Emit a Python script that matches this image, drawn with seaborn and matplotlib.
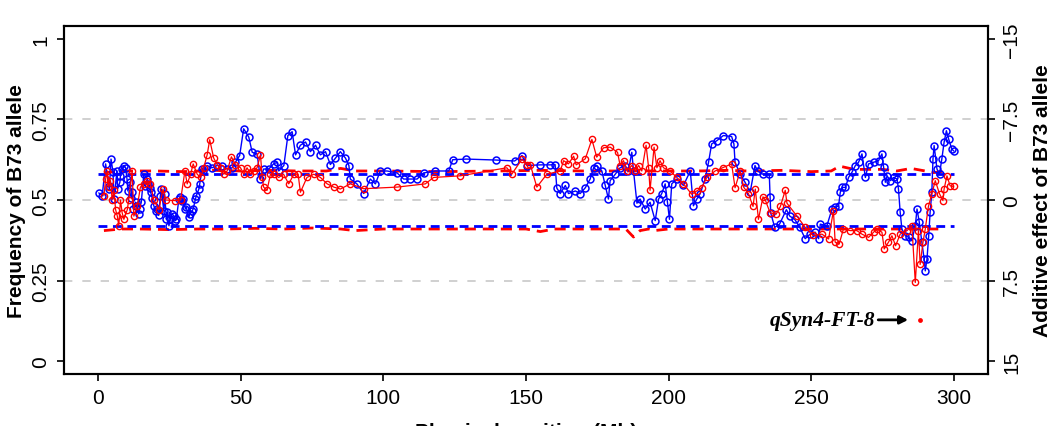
import matplotlib
matplotlib.use("Agg")
import matplotlib.pyplot as plt
import pandas as pd
import seaborn as sns

# style first, then fonts (set_style resets font.family)
sns.set_style("ticks", {'text.color': 'black', 'axes.labelcolor': 'black',
                        'xtick.color': 'black', 'ytick.color': 'black',
                        'axes.edgecolor': 'black'})
plt.rcParams['font.family'] = ['Liberation Sans', 'DejaVu Sans']

# --- data ---
blue_pos = [0.2, 1.4, 2.6, 3.7, 3.9, 4.5, 5.2, 5.5, 6.6, 6.8, 7.6, 7.8, 8.4, 9.0, 9.6, 10.1,
            10.4, 11.3, 11.6, 11.9, 12.3, 13.1, 13.4, 14.2, 14.5, 15.1, 16.0, 16.3, 17.2, 17.5,
            18.1, 18.4, 18.9, 19.5, 20.1, 20.7, 21.2, 21.8, 22.1, 23.0, 23.3, 23.9, 24.2, 24.8,
            25.3, 25.9, 26.5, 27.1, 27.4, 28.3, 28.6, 29.4, 29.7, 30.6, 30.9, 31.8, 32.1, 33.0,
            33.3, 34.1, 34.4, 35.3, 35.6, 36.4, 36.7,
            38.2, 39.9, 41.7, 43.4, 45.2, 47.0, 48.1, 49.6,
            51.0, 52.8, 54.0, 55.7, 56.9, 58.0, 59.8, 61.5, 62.7, 63.3, 65.1, 66.5, 68.0, 69.2,
            70.9, 72.7, 74.4, 76.2, 77.9, 79.7, 81.4, 83.2, 84.9, 86.7, 87.9, 88.4, 90.7, 93.1,
            95.4, 97.2, 98.9, 101.3, 104.8, 107.1, 109.4, 111.8, 114.1, 118.2, 122.9, 124.3,
            129.1, 139.4, 146.0, 148.6, 150.3, 155.0, 158.5, 160.2, 160.8, 162.0, 163.8, 164.9,
            167.3, 169.0, 170.8, 172.5, 173.7, 174.8, 176.6, 177.8, 178.9, 179.5, 181.3, 183.0,
            184.8, 185.9, 187.1, 187.7, 188.9, 190.0, 191.8, 193.5, 195.3, 196.5, 197.6, 198.8,
            199.6, 200.3, 201.1, 202.9, 205.2, 207.6, 208.7, 209.9, 211.1, 212.8, 214.0, 215.1,
            216.9, 219.2, 222.1, 222.9, 223.3, 225.1, 226.8, 228.6, 230.3, 231.2, 233.0, 235.3,
            235.6, 235.8, 237.2, 238.9, 241.3, 242.5, 244.2, 246.0, 247.9, 249.6, 251.4, 252.6,
            253.2, 255.5, 257.3, 258.5, 259.6, 260.2, 260.8, 262.0, 263.1, 264.3, 265.5, 266.6,
            267.8, 269.0, 270.1, 271.9, 273.6, 274.8, 275.4, 276.0, 276.6, 277.7, 278.9, 280.1,
            280.6, 281.2, 281.8, 283.0, 284.2, 285.3, 286.5, 287.1, 287.9, 288.8, 289.6, 290.0,
            290.6, 291.2, 291.7, 292.3, 292.7, 293.1, 294.1, 295.0, 295.8, 296.6, 297.4, 298.2,
            299.3, 300.0]
blue_freq = [0.522, 0.513, 0.612, 0.544, 0.534, 0.627, 0.586, 0.503, 0.59, 0.534, 0.555, 0.575,
             0.596, 0.607, 0.60, 0.565, 0.528, 0.555, 0.507, 0.524, 0.472, 0.493, 0.482, 0.457,
             0.472, 0.493, 0.58, 0.544, 0.565, 0.55, 0.538, 0.524, 0.507, 0.482, 0.467, 0.472,
             0.452, 0.513, 0.534, 0.467, 0.519, 0.44, 0.462, 0.42, 0.441, 0.457, 0.451, 0.436,
             0.441, 0.503, 0.508, 0.497, 0.503, 0.472, 0.477, 0.446, 0.457, 0.467, 0.472, 0.503,
             0.513, 0.534, 0.55, 0.596, 0.591,
             0.607, 0.60, 0.607, 0.607, 0.596, 0.60, 0.617, 0.638, 0.721, 0.695, 0.648, 0.643,
             0.565, 0.596, 0.596, 0.612, 0.617, 0.59, 0.607, 0.70, 0.712, 0.64, 0.67, 0.68, 0.65,
             0.67, 0.64, 0.65, 0.61, 0.63, 0.65, 0.63, 0.607, 0.565, 0.55, 0.52, 0.565, 0.55,
             0.59, 0.59, 0.584, 0.565, 0.565, 0.565, 0.584, 0.59, 0.59, 0.625, 0.627, 0.624,
             0.621, 0.638, 0.607, 0.609, 0.609, 0.61, 0.537, 0.52, 0.545, 0.52, 0.528, 0.52,
             0.538, 0.565, 0.60, 0.607, 0.59, 0.545, 0.503, 0.56, 0.58, 0.60, 0.607, 0.59, 0.648,
             0.59, 0.49, 0.503, 0.472, 0.493, 0.436, 0.503, 0.52, 0.55, 0.493, 0.44, 0.55, 0.565,
             0.545, 0.59, 0.482, 0.503, 0.52, 0.565, 0.617, 0.674, 0.684, 0.70, 0.697, 0.674,
             0.617, 0.58, 0.555, 0.524, 0.607, 0.59, 0.58, 0.58, 0.51, 0.46, 0.415, 0.425, 0.47,
             0.45, 0.44, 0.415, 0.38, 0.394, 0.40, 0.38,
             0.425, 0.42, 0.472, 0.477, 0.482, 0.524, 0.539, 0.539, 0.57, 0.586, 0.607, 0.617,
             0.643, 0.57, 0.612, 0.617, 0.622, 0.643, 0.601, 0.555, 0.575, 0.56, 0.57, 0.565,
             0.534, 0.462, 0.41, 0.389, 0.384, 0.374, 0.42, 0.472, 0.431, 0.369, 0.317, 0.28,
             0.317, 0.389, 0.462, 0.524, 0.627, 0.669, 0.596, 0.581, 0.627, 0.679, 0.715, 0.689,
             0.658, 0.652]

red_pos = [2.0, 2.6, 3.2, 3.7, 4.3, 4.9, 5.5, 6.1, 6.7, 7.2, 7.8, 8.4, 9.0, 10.2, 10.7, 11.9,
           12.5, 13.7, 14.8, 16.0, 17.2, 18.3, 19.5, 21.3, 22.7, 23.6, 27.1, 28.9, 30.4, 31.2,
           32.4, 33.3, 34.7, 35.9, 37.0, 38.2, 39.1, 40.5, 41.7, 42.9, 44.0, 45.2, 46.7, 48.1,
           49.9, 51.1, 52.2, 53.4, 54.6, 55.7, 56.9, 57.5, 58.0, 59.2, 60.4, 61.6, 63.3, 65.0,
           66.8, 68.6, 70.1, 70.9, 73.2, 75.6, 77.9, 80.3, 82.6, 84.9, 88.4, 93.1, 104.8, 114.7,
           117.6, 127.0, 143.3, 145.0, 148.6, 150.3, 151.5, 153.8, 157.3, 162.0, 163.2, 164.9,
           166.7, 167.6, 170.8, 173.1, 174.8, 177.2, 179.5, 182.1, 183.0, 184.2, 185.4, 187.1,
           188.3, 189.5, 190.6, 192.1, 193.0, 193.5, 194.9, 195.9, 197.0, 198.2, 200.5, 202.9,
           205.2, 208.1, 209.9, 211.6, 213.4, 216.3, 218.9, 222.1, 223.3, 225.1, 226.3, 228.0,
           229.6, 230.4, 231.5, 233.1, 233.9, 235.6, 237.7, 239.2, 240.9, 241.5, 245.0, 247.9,
           250.6, 253.8, 256.1, 257.8, 258.4, 259.8, 261.3, 263.7, 266.0, 267.8, 270.1, 271.9,
           273.0, 274.8, 275.6, 277.1, 278.3, 279.6, 281.2, 283.6, 285.3, 286.5, 287.6, 288.2,
           289.2, 290.0, 291.1, 292.3, 293.5, 295.0, 296.2, 296.6, 297.6, 298.7, 299.9]
red_freq = [0.513, 0.565, 0.59, 0.54, 0.56, 0.50, 0.53, 0.47, 0.45, 0.42, 0.50, 0.46, 0.44, 0.47,
            0.50, 0.59, 0.45, 0.48, 0.54, 0.55, 0.56, 0.55, 0.50, 0.47, 0.534, 0.50, 0.498, 0.50,
            0.59, 0.55, 0.58, 0.612, 0.58, 0.57, 0.60, 0.64, 0.687, 0.63, 0.61, 0.60, 0.58, 0.59,
            0.634, 0.61, 0.60, 0.58, 0.60, 0.58, 0.59, 0.60, 0.64, 0.57, 0.54, 0.53, 0.58, 0.58,
            0.57, 0.58, 0.55, 0.58, 0.58, 0.524, 0.57, 0.58, 0.57, 0.55, 0.54, 0.534, 0.55,
            0.535, 0.54, 0.55, 0.57, 0.575, 0.60, 0.58, 0.627, 0.61, 0.61, 0.54, 0.58, 0.59,
            0.622, 0.612, 0.636, 0.609, 0.628, 0.688, 0.633, 0.662, 0.664, 0.648, 0.607, 0.622,
            0.59, 0.607, 0.59, 0.607, 0.59, 0.67, 0.60, 0.53, 0.664, 0.60, 0.622, 0.60, 0.59,
            0.57, 0.55, 0.518, 0.528, 0.538, 0.57, 0.59, 0.60, 0.612, 0.538, 0.59, 0.54, 0.52,
            0.48, 0.534, 0.44, 0.51, 0.50, 0.46, 0.456, 0.48, 0.53, 0.49, 0.45, 0.415, 0.39,
            0.394, 0.379, 0.467, 0.369, 0.363, 0.41, 0.405, 0.405, 0.394, 0.384, 0.40, 0.41,
            0.40, 0.348, 0.369, 0.389, 0.358, 0.394, 0.405, 0.42, 0.244, 0.405, 0.30, 0.369,
            0.41, 0.48, 0.519, 0.56, 0.519, 0.498, 0.534, 0.575, 0.544, 0.542]

# significance thresholds
blue_thr_pos = [0, 300]
blue_thr_low = [0.42, 0.42]
blue_thr_high = [0.58, 0.58]

red_hi_pos = [2, 10, 20, 30, 40, 50, 60, 70, 80, 85, 90, 100, 120, 140, 155, 170, 185, 200,
              210, 220, 228, 240, 250, 257, 260, 265, 275, 280, 285, 290, 293, 297]
red_hi_val = [0.585, 0.59, 0.59, 0.588, 0.592, 0.59, 0.592, 0.59, 0.59, 0.598, 0.59, 0.59,
              0.588, 0.59, 0.592, 0.59, 0.59, 0.59, 0.59, 0.592, 0.59, 0.592, 0.588, 0.59,
              0.605, 0.595, 0.595, 0.59, 0.598, 0.59, 0.585, 0.59]
red_lo_pos = [2, 8, 15, 25, 35, 45, 55, 65, 75, 85, 90, 100, 120, 140, 150, 155, 160, 175,
              185, 187.7, 190, 193, 195, 200, 215, 230, 250, 270, 285, 297]
red_lo_val = [0.405, 0.41, 0.41, 0.408, 0.41, 0.41, 0.412, 0.41, 0.413, 0.41, 0.405, 0.41,
              0.41, 0.41, 0.41, 0.402, 0.41, 0.41, 0.41, 0.385, 0.405, 0.41, 0.405, 0.41,
              0.41, 0.41, 0.41, 0.41, 0.41, 0.41]

grid_levels = [0.25, 0.5, 0.75]
freq_ticks = [0, 0.25, 0.5, 0.75, 1]
freq_labels = ['0', '0.25', '0.5', '0.75', '1']
effect_ticks = [15, 7.5, 0, -7.5, -15]
effect_labels = ['15', '7.5', '0', '\u22127.5', '\u221215']
x_ticks = [0, 50, 100, 150, 200, 250, 300]

qtl_name = 'qSyn4-FT-8'
qtl_pos = [288.2]
qtl_freq = [0.128]

blue_df = pd.DataFrame({'pos': blue_pos, 'freq': blue_freq})
red_df = pd.DataFrame({'pos': red_pos, 'freq': red_freq})

# --- figure ---
fig = plt.figure(figsize=(10.54, 4.27), dpi=100)
ax = fig.add_axes([0.0607, 0.1218, 0.8767, 0.815])

for g in grid_levels:
    ax.axhline(g, color='#C8C8C8', lw=1.2, dashes=(5, 6), zorder=0)

# threshold lines
sns.lineplot(x=red_hi_pos, y=red_hi_val, ax=ax, color='red', lw=2,
             estimator=None, sort=False, zorder=1).lines[-1].set_dashes((4, 2.5))
sns.lineplot(x=red_lo_pos, y=red_lo_val, ax=ax, color='red', lw=2,
             estimator=None, sort=False, zorder=1).lines[-1].set_dashes((4, 2.5))
sns.lineplot(x=blue_thr_pos, y=blue_thr_high, ax=ax, color='blue', lw=2,
             estimator=None, sort=False, zorder=1).lines[-1].set_dashes((3.2, 2))
sns.lineplot(x=blue_thr_pos, y=blue_thr_low, ax=ax, color='blue', lw=2,
             estimator=None, sort=False, zorder=1).lines[-1].set_dashes((3.2, 2))

# allele frequency traces
sns.lineplot(data=blue_df, x='pos', y='freq', ax=ax, color='blue', lw=1.0,
             marker='o', ms=5, mfc='none', mec='blue', mew=1.1,
             estimator=None, sort=False, zorder=2)
sns.lineplot(data=red_df, x='pos', y='freq', ax=ax, color='red', lw=0.9,
             marker='o', ms=4.5, mfc='none', mec='red', mew=1.0,
             estimator=None, sort=False, zorder=3)

# QTL annotation
sns.scatterplot(x=qtl_pos, y=qtl_freq, ax=ax, color='red', s=12, linewidth=0, zorder=4)
ax.annotate('', xy=(284.0, qtl_freq[0]), xytext=(273.5, qtl_freq[0]),
            arrowprops=dict(arrowstyle='-|>', color='black', lw=2, mutation_scale=12,
                            shrinkA=0, shrinkB=0))
ax.text(272.5, qtl_freq[0], qtl_name, ha='right', va='center', fontsize=15.5,
        family='Liberation Serif', fontweight='bold', fontstyle='italic')

ax.set_xlim(-12, 312)
ax.set_ylim(-0.04, 1.04)
ax.set_xticks(x_ticks)
ax.set_xticklabels([str(t) for t in x_ticks], fontsize=15)
ax.set_yticks(freq_ticks)
ax.set_yticklabels(freq_labels, fontsize=15, rotation=90, va='center')
ax.set_xlabel('Physical position (Mb)', fontsize=15, fontweight='bold', labelpad=11)
ax.set_ylabel('Frequency of B73 allele', fontsize=15, fontweight='bold', labelpad=4)
ax.tick_params(axis='both', length=5, width=1.2, pad=5, color='black', labelcolor='black')

ax2 = ax.twinx()
ax2.set_ylim(16.2, -16.2)
ax2.set_yticks(effect_ticks)
ax2.set_yticklabels(effect_labels, fontsize=15, rotation=90, va='center')
ax2.set_ylabel('Additive effect of B73 allele', fontsize=15, fontweight='bold', labelpad=9)
ax2.tick_params(axis='y', length=5, width=1.2, pad=5, color='black', labelcolor='black')

for a in (ax, ax2):
    for s in a.spines.values():
        s.set_linewidth(1.5)
        s.set_color('black')

fig.savefig('out.png', dpi=100)
